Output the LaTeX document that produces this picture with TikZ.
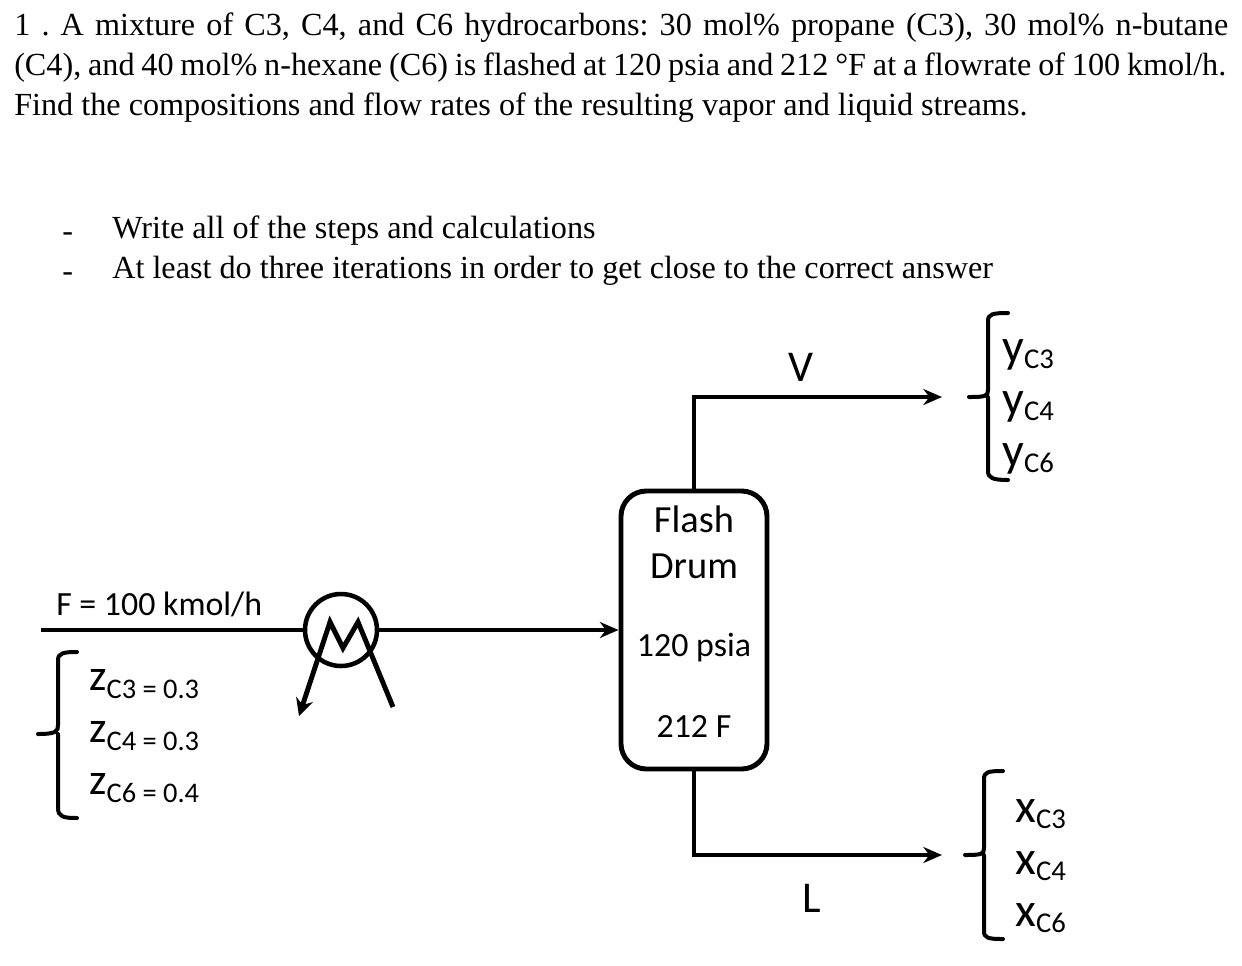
\documentclass[tikz,border=0pt]{standalone}
\usepackage{fontspec}
\setmainfont{Liberation Serif}
\newfontfamily\calf{Carlito}
\usetikzlibrary{arrows.meta}
\frenchspacing
\newcommand{\bodytext}{\fontsize{24.15}{30}\selectfont}
\newcommand{\lab}{\fontsize{25.4}{30}\selectfont\calf}
\newcommand{\lett}{\fontsize{33}{36}\selectfont\calf}
\newcommand{\subfont}{\fontsize{21.5}{26}\selectfont\calf}
\newcommand{\bigletter}{\fontsize{36}{40}\selectfont\calf}
\tikzset{
  x=0.75pt,y=-0.75pt,
  para/.style={anchor=base west,inner sep=0pt,font=\bodytext},
  dia/.style={inner sep=0pt,font=\lab},
  drumlabel/.style={inner sep=0pt,font=\fontsize{28.8}{32}\selectfont\calf},
  letterlabel/.style={inner sep=0pt,font=\fontsize{33}{36}\selectfont\calf},
  pipe/.style={line width=3.7pt,line cap=butt},
  flow/.style={pipe,-{Stealth[length=14pt,width=12pt]}},
  curly/.style={line width=3pt,line cap=round},
  comp/.style={anchor=base west,inner sep=0pt}
}
\begin{document}
\begin{tikzpicture}
\useasboundingbox (0,0) rectangle (1242,965);
\fill[white] (0,0) rectangle (1242,965);
% paragraph
\node[para] (t1) at (14,35) {\makebox[910.5pt][s]{1 . A mixture of C3, C4, and C6 hydrocarbons: 30 mol\% propane (C3), 30 mol\% n-butane}};
\node[para] (t2) at (14,75) {\makebox[909pt][s]{(C4), and 40 mol\% n-hexane (C6) is flashed at 120 psia and 212 °F at a flowrate of 100 kmol/h.}};
\node[para] (t3) at (14,115) {Find the compositions and flow rates of the resulting vapor and liquid streams.};
\node[para] (b1) at (62,241) {-};
\node[para] (t4) at (112,238) {Write all of the steps and calculations};
\node[para] (b2) at (62,281) {-};
\node[para] (t5) at (112,278) {At least do three iterations in order to get close to the correct answer};
% drum
\node[draw,line width=3.7pt,rounded corners=19pt,minimum width=109.5pt,minimum height=208.5pt,inner sep=0pt] (drum) at (694,630) {};
\node[drumlabel] (d1) at (694,519) {Flash};
\node[drumlabel] (d2) at (694,566) {Drum};
\node[dia] (d3) at (694,648) {120 psia};
\node[dia] (d4) at (694,726) {212 F};
% HX
\node[draw,circle,line width=3.4pt,minimum size=54pt,inner sep=0pt] (hx) at (341,630) {};
\coordinate (feed) at (41,630);
\coordinate (hxin) at (393,707);
\coordinate (hxout) at (299,716);
\coordinate (m1) at (330,622);
\coordinate (m2) at (343,648);
\coordinate (m3) at (358,622);
\draw[pipe] (feed) -- (hx.west);
\draw[flow] (hx.east) -- (drum.west);
\draw[pipe,-{Stealth[length=13pt,width=13pt]},line join=miter] (hxin) -- (m3) -- (m2) -- (m1) -- (hxout);
% outlets
\coordinate (vout) at (942,397);
\coordinate (lout) at (942,855);
\draw[flow] (drum.north) |- (vout);
\draw[flow] (drum.south) |- (lout);
\node[letterlabel] (V) at (801,367) {V};
\node[letterlabel] (L) at (812,898) {L};
\node[dia,anchor=base west] (F) at (56,615) {F = 100 kmol/h};
% braces
\draw[curly] (77,652) .. controls (64,652) and (58,653) .. (58,660) -- (58,725) .. controls (58,731) and (57,734) .. (38,734)
 (58,734) -- (58,808) .. controls (58,817) and (64,818) .. (77,818);
\draw[curly] (1008,313) .. controls (993,313) and (988,314) .. (988,321) -- (988,390) .. controls (988,396) and (986,397) .. (969,397)
 (988,397) -- (988,471) .. controls (988,478) and (993,480) .. (1008,480);
\draw[curly] (1003,771) .. controls (988,771) and (984,772) .. (984,779) -- (984,848) .. controls (984,854) and (982,855) .. (965,855)
 (984,855) -- (984,931) .. controls (984,938) and (988,939) .. (1003,939);
% compositions
\node[comp] (z1) at (89,690) {\lett z\raisebox{-6.5pt}{\fontsize{21.3}{26}\selectfont C3 = 0.3}};
\node[comp] (z2) at (89,742) {\lett z\raisebox{-6.5pt}{\fontsize{21.3}{26}\selectfont C4 = 0.3}};
\node[comp] (z3) at (89,794) {\lett z\raisebox{-6.5pt}{\fontsize{21.3}{26}\selectfont C6 = 0.4}};
\node[comp] (y1) at (1002,362) {\bigletter y\raisebox{-5pt}{\subfont C3}};
\node[comp] (y2) at (1002,414) {\bigletter y\raisebox{-5pt}{\subfont C4}};
\node[comp] (y3) at (1002,466) {\bigletter y\raisebox{-5pt}{\subfont C6}};
\node[comp] (x1) at (1015,822) {\bigletter x\raisebox{-5pt}{\subfont C3}};
\node[comp] (x2) at (1015,874) {\bigletter x\raisebox{-5pt}{\subfont C4}};
\node[comp] (x3) at (1015,926) {\bigletter x\raisebox{-5pt}{\subfont C6}};
\end{tikzpicture}
\end{document}
